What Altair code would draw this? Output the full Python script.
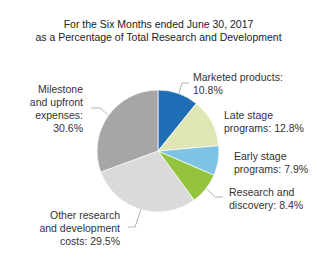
import altair as alt
import pandas as pd

# ---- data ----
categories = ["Marketed products", "Late stage programs", "Early stage programs",
              "Research and discovery", "Other research and development costs",
              "Milestone and upfront expenses"]
values = [10.8, 12.8, 7.9, 8.4, 29.5, 30.6]
colors = ["#1f6db5", "#dfe6b3", "#7ec3e3", "#94c43d", "#dadada", "#a6a6a6"]
label_texts = [
    "Marketed products:\n10.8%",
    "Late stage\nprograms: 12.8%",
    "Early stage\nprograms: 7.9%",
    "Research and\ndiscovery: 8.4%",
    "Other research\nand development\ncosts: 29.5%",
    "Milestone\nand upfront\nexpenses:\n30.6%",
]
title_lines = ["For the Six Months ended June 30, 2017",
               "as a Percentage of Total Research and Development"]

# ---- layout ----
W, H = 317, 266
CX, CY, R = 158, 151, 61
FONT = "Liberation Sans"
FS = 10.5
label_pos = [(193, 81, "left"), (224, 119, "left"), (234, 160, "left"),
             (229, 196, "left"), (120, 219, "right"), (83, 93, "right")]
leaders = [
    [(179, 93), (182, 83), (189, 83)],
    [(207, 189), (215, 197), (223, 197)],
    [(128, 227), (135, 227), (141, 209)],
    [(91, 108), (100, 108), (108, 115)],
]

pie_df = pd.DataFrame({"cat": categories, "value": values, "idx": list(range(len(values)))})

pie = alt.Chart(pie_df).mark_arc(
    outerRadius=R, stroke="white", strokeWidth=0.7
).encode(
    theta=alt.Theta("value:Q", stack=True),
    order=alt.Order("idx:Q"),
    color=alt.Color("cat:N", scale=alt.Scale(domain=categories, range=colors), legend=None),
    x=alt.value(CX), y=alt.value(CY),
)

lab_df = pd.DataFrame({
    "text": label_texts,
    "lx": [p[0] for p in label_pos],
    "ly": [p[1] for p in label_pos],
    "al": [p[2] for p in label_pos],
})

def text_layer(df, align):
    return alt.Chart(df).mark_text(
        align=align, baseline="alphabetic", font=FONT, fontSize=FS,
        lineBreak="\n", lineHeight=13, color="#333333"
    ).encode(
        x=alt.X("lx:Q", scale=None, axis=None),
        y=alt.Y("ly:Q", scale=None, axis=None),
        text="text:N",
    )

left_labels = text_layer(lab_df[lab_df.al == "left"], "left")
right_labels = text_layer(lab_df[lab_df.al == "right"], "right")

rows = []
for i, seg in enumerate(leaders):
    for j, (px, py) in enumerate(seg):
        rows.append({"g": i, "o": j, "px": px, "py": py})
lead_df = pd.DataFrame(rows)
lead = alt.Chart(lead_df).mark_line(color="#aaaaaa", strokeWidth=0.9).encode(
    x=alt.X("px:Q", scale=None, axis=None),
    y=alt.Y("py:Q", scale=None, axis=None),
    detail="g:N",
    order="o:Q",
)

title_df = pd.DataFrame({"text": ["\n".join(title_lines)], "tx": [W / 2], "ty": [28]})
title = alt.Chart(title_df).mark_text(
    align="center", baseline="alphabetic", font=FONT, fontSize=FS,
    lineBreak="\n", lineHeight=12.5, color="#222222"
).encode(
    x=alt.X("tx:Q", scale=None, axis=None),
    y=alt.Y("ty:Q", scale=None, axis=None),
    text="text:N",
)

chart = alt.layer(pie, lead, left_labels, right_labels, title).properties(
    width=W, height=H, padding=0, autosize=alt.AutoSizeParams(type="none")
).configure_view(stroke=None)

chart.save("out.html", embed_options={"renderer": "svg", "actions": False})
